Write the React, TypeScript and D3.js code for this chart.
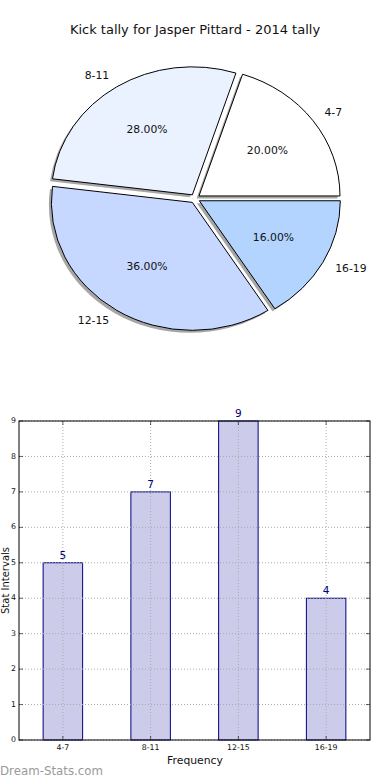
import React from 'react';
import * as d3 from 'd3';

const title = 'Kick tally for Jasper Pittard - 2014 tally';
const categories = ['4-7', '8-11', '12-15', '16-19'];
const counts = [5, 7, 9, 4];
const sliceColors = ['#ffffff', '#eaf1ff', '#c6d8ff', '#b3d4ff'];
const yTicks = [0, 1, 2, 3, 4, 5, 6, 7, 8, 9];

const W = 390;
const H = 780;
const FONT = 'DejaVu Sans, sans-serif';

// pie geometry (matplotlib style, slightly elliptical)
const pcx = 195;
const pcy = 198.6;
const rx = 141;
const ry = 128;
const explode = 0.035;

// bar axes box
const bx0 = 19;
const bx1 = 370;
const by0 = 421;
const by1 = 740;

function App() {
    const total = d3.sum(counts);
    // matplotlib starts at 3 o'clock and runs counter-clockwise
    const pie = d3.pie<number>()
        .sort(null)
        .startAngle(Math.PI / 2)
        .endAngle(Math.PI / 2 - 2 * Math.PI);
    const arcs = pie(counts);
    const arcGen = d3.arc<d3.PieArcDatum<number>>().innerRadius(0).outerRadius(1);

    const x = d3.scaleLinear().domain([-0.5, categories.length - 0.5]).range([bx0, bx1]);
    const y = d3.scaleLinear().domain([0, 9]).range([by1, by0]);
    const barW = 0.45 * (x(1) - x(0));

    const slices = arcs.map((a, i) => {
        const mid = (a.startAngle + a.endAngle) / 2;
        const ux = Math.sin(mid);
        const uy = -Math.cos(mid);
        const ox = pcx + explode * rx * ux;
        const oy = pcy + explode * ry * uy;
        return { a, i, ux, uy, ox, oy };
    });

    return (
        <svg width={W} height={H} style={{ position: 'absolute', left: 0, top: 0, background: '#fff' }}
            fontFamily={FONT}>
            <text x={195} y={30} textAnchor="middle" dominantBaseline="middle" fontSize={13} fill="#111">
                {title}
            </text>

            {/* shadows */}
            {slices.map(s => (
                <path key={'sh' + s.i}
                    d={arcGen(s.a) || ''}
                    transform={`translate(${s.ox - 2.5},${s.oy + 2.5}) scale(${rx},${ry})`}
                    fill="#4d4d4d" fillOpacity={0.5} />
            ))}
            {slices.map(s => (
                <path key={'sl' + s.i}
                    d={arcGen(s.a) || ''}
                    transform={`translate(${s.ox},${s.oy}) scale(${rx},${ry})`}
                    fill={sliceColors[s.i]} stroke="#000" strokeWidth={1}
                    vectorEffect="non-scaling-stroke" strokeLinejoin="round" />
            ))}
            {slices.map(s => (
                <text key={'pc' + s.i}
                    x={s.ox + 0.6 * rx * s.ux} y={s.oy + 0.6 * ry * s.uy}
                    textAnchor="middle" dominantBaseline="middle" fontSize={10.8} fill="#111">
                    {d3.format('.2f')((counts[s.i] / total) * 100) + '%'}
                </text>
            ))}
            {slices.map(s => (
                <text key={'lb' + s.i}
                    x={s.ox + 1.1 * rx * s.ux} y={s.oy + 1.1 * ry * s.uy}
                    textAnchor={s.ux > 0 ? 'start' : 'end'} dominantBaseline="middle"
                    fontSize={10.8} fill="#111">
                    {categories[s.i]}
                </text>
            ))}

            {/* bar chart */}
            <rect x={bx0} y={by0} width={bx1 - bx0} height={by1 - by0} fill="#fff" />
            {counts.map((v, i) => (
                <rect key={'b' + i}
                    x={x(i) - barW / 2} y={y(v)} width={barW} height={y(0) - y(v)}
                    fill="#ccccea" stroke="#000080" strokeWidth={1} />
            ))}
            {yTicks.map(t => (
                <line key={'gy' + t} x1={bx0} x2={bx1} y1={y(t)} y2={y(t)}
                    stroke="#aaa" strokeWidth={1} strokeDasharray="1,2" />
            ))}
            {categories.map((c, i) => (
                <line key={'gx' + i} x1={x(i)} x2={x(i)} y1={by0} y2={by1}
                    stroke="#aaa" strokeWidth={1} strokeDasharray="1,2" />
            ))}
            {counts.map((v, i) => (
                <text key={'v' + i} x={x(i)} y={y(v) - 4} textAnchor="middle"
                    fontSize={10.5} fill="#000080">{v}</text>
            ))}
            {/* ticks, pointing inward on every side */}
            {yTicks.map(t => (
                <g key={'ty' + t}>
                    <line x1={bx0} x2={bx0 + 4} y1={y(t)} y2={y(t)} stroke="#000" strokeWidth={0.6} />
                    <line x1={bx1 - 4} x2={bx1} y1={y(t)} y2={y(t)} stroke="#000" strokeWidth={0.6} />
                    <text x={bx0 - 3} y={y(t)} textAnchor="end" dominantBaseline="middle"
                        fontSize={7.8} fill="#111">{t}</text>
                </g>
            ))}
            {categories.map((c, i) => (
                <g key={'tx' + i}>
                    <line x1={x(i)} x2={x(i)} y1={by1} y2={by1 - 4} stroke="#000" strokeWidth={0.6} />
                    <line x1={x(i)} x2={x(i)} y1={by0} y2={by0 + 4} stroke="#000" strokeWidth={0.6} />
                    <text x={x(i)} y={by1 + 8} textAnchor="middle" dominantBaseline="middle"
                        fontSize={7.8} fill="#111">{c}</text>
                </g>
            ))}
            <rect x={bx0} y={by0} width={bx1 - bx0} height={by1 - by0} fill="none" stroke="#000" strokeWidth={1} />
            <text x={195} y={761} textAnchor="middle" dominantBaseline="middle" fontSize={10.8} fill="#111">
                Frequency
            </text>
            <text transform={`translate(6,${(by0 + by1) / 2}) rotate(-90)`} textAnchor="middle"
                dominantBaseline="middle" fontSize={10} fill="#111">
                Stat Intervals
            </text>
            <text x={0} y={771} dominantBaseline="middle" fontSize={11.8} fill="#9a9a9a">
                Dream-Stats.com
            </text>
        </svg>
    );
}

export default App;
